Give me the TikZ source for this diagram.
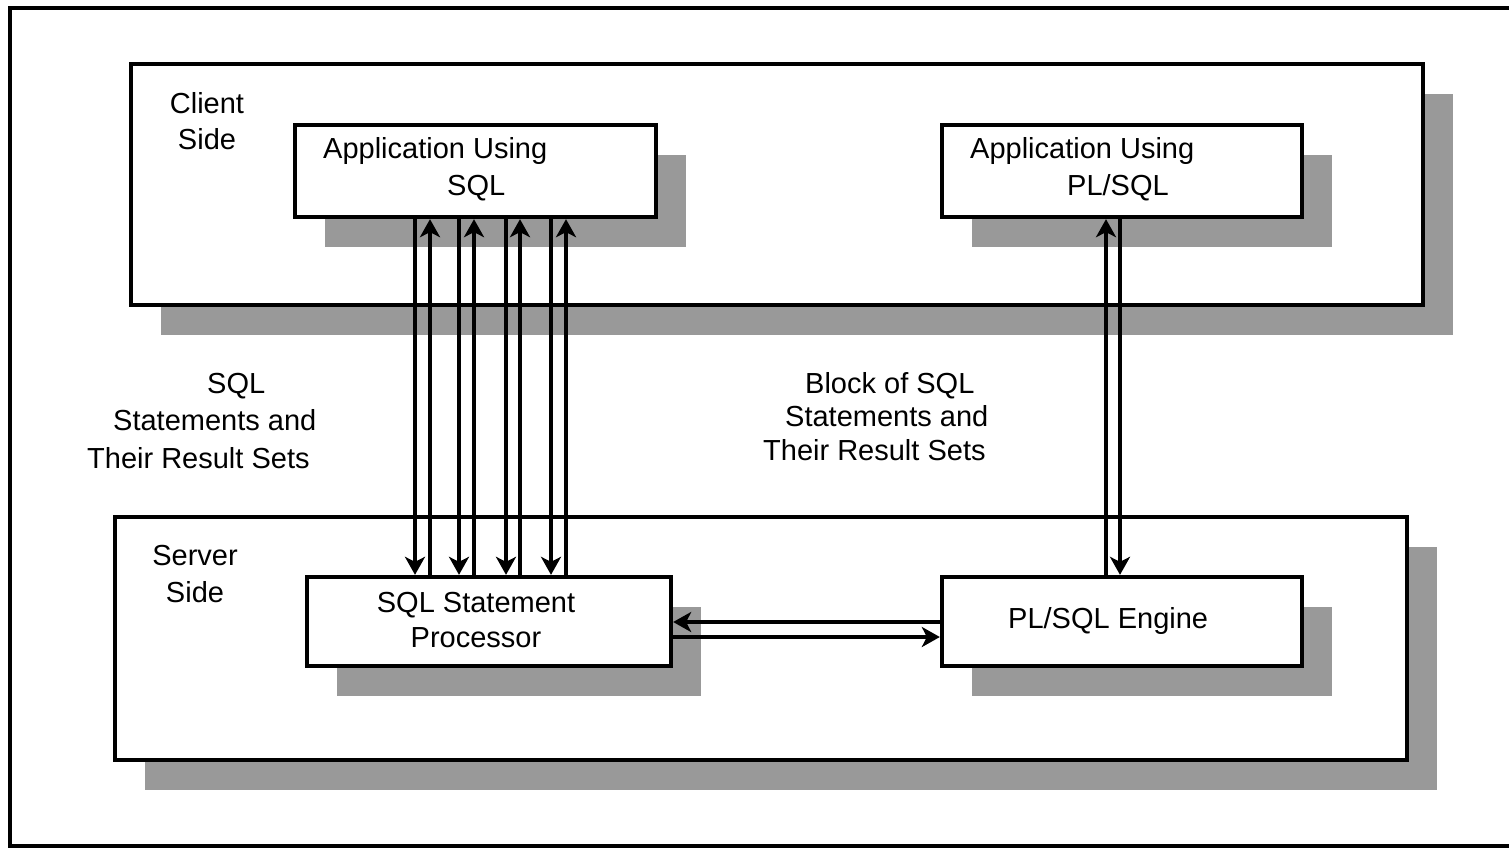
\documentclass[tikz,border=0pt]{standalone}
\usepackage{fontspec}
\setmainfont{Liberation Sans}
\usetikzlibrary{arrows.meta,shadows}
\begin{document}
\begin{tikzpicture}[x=1pt,y=-1pt,
  box/.style={draw, line width=4.3pt, fill=white, inner sep=0pt,
    drop shadow={shadow xshift=30pt, shadow yshift=-30pt, fill=black!40, opacity=1}},
  lbl/.style={inner sep=0pt, font=\fontsize{29}{36}\selectfont},
  arr/.style={line width=3.3pt, -{Stealth[length=18pt,width=20pt,inset=5pt]}}]
\useasboundingbox (0,0) rectangle (1509,847);
\clip (0,0) rectangle (1509,847);
\draw[line width=4.3pt] (10,8) rectangle (1530,846);
% client side
\node[box, minimum width=1292pt, minimum height=241pt] (client) at (777,184.5) {};
\node[box, minimum width=361pt, minimum height=92pt] (app1) at (475.5,171) {};
\node[box, minimum width=360pt, minimum height=92pt] (app2) at (1122,171) {};
% server side
\node[box, minimum width=1292pt, minimum height=243pt] (server) at (761,638.5) {};
\node[box, minimum width=364pt, minimum height=89pt] (proc) at (489,621.5) {};
\node[box, minimum width=360pt, minimum height=89pt] (engine) at (1122,621.5) {};
% labels (base anchor = baseline of last line)
\node[lbl, align=center, anchor=base] (lclient) at (207,149) {Client\\Side};
\node[lbl, align=left, anchor=base west, font=\fontsize{29}{37}\selectfont] (lapp1) at (323,195) {Application Using\\\hspace{124pt}SQL};
\node[lbl, align=left, anchor=base west, font=\fontsize{29}{37}\selectfont] (lapp2) at (970,195) {Application Using\\\hspace{97pt}PL/SQL};
\node[lbl, align=left, anchor=base west, font=\fontsize{29}{37.5}\selectfont] (lsql) at (87,468) {\hspace{120pt}SQL\\\hspace{26pt}Statements and\\Their Result Sets};
\node[lbl, align=left, anchor=base west, font=\fontsize{29}{33.5}\selectfont] (lblock) at (763,460) {\hspace{42pt}Block of SQL\\\hspace{22pt}Statements and\\Their Result Sets};
\node[lbl, align=center, anchor=base, font=\fontsize{29}{37}\selectfont] (lserver) at (195,602) {Server\\Side};
\node[lbl, align=center, anchor=base, font=\fontsize{29}{35}\selectfont] (lproc) at (476,647) {SQL Statement\\Processor};
\node[lbl, anchor=base west] (lengine) at (1008,628) {PL/SQL Engine};
% vertical arrows SQL
\foreach \d/\u in {415/430, 459/474, 506/520, 551/566} {
  \draw[arr] (app1.south -| \d,0) -- (proc.north -| \d,0);
  \draw[arr] (proc.north -| \u,0) -- (app1.south -| \u,0);
}
% vertical arrows PL/SQL
\draw[arr] (engine.north -| 1106,0) -- (app2.south -| 1106,0);
\draw[arr] (app2.south -| 1120,0) -- (engine.north -| 1120,0);
% horizontal arrows
\draw[arr] (engine.west |- 0,622) -- (proc.east |- 0,622);
\draw[arr] (proc.east |- 0,637) -- (engine.west |- 0,637);
\end{tikzpicture}
\end{document}
